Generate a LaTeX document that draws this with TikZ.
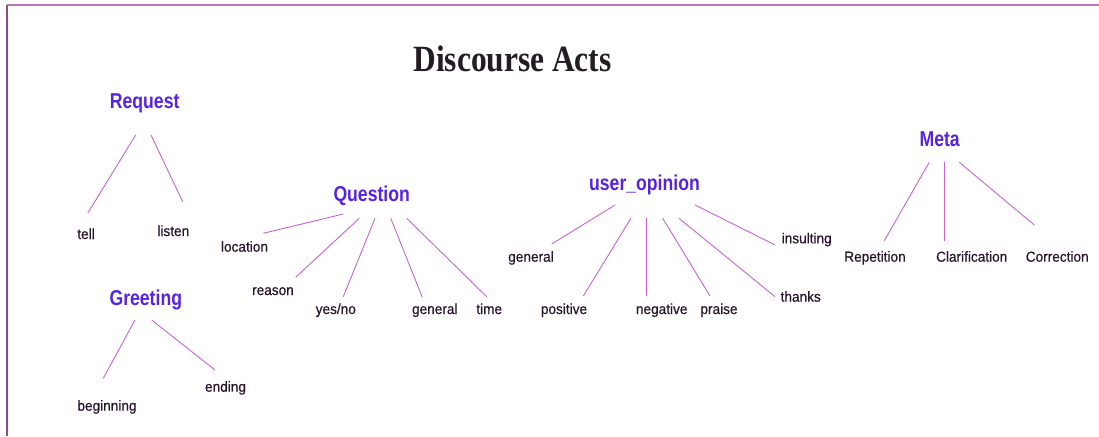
\documentclass[tikz,border=0pt]{standalone}
\usepackage{fontspec}
\setmainfont{Liberation Sans}
\newfontfamily\titlefont{Liberation Serif}
\newfontfamily\leaffont[FakeBold=0.5]{Liberation Sans}

\definecolor{actblue}{RGB}{85,35,225}
\definecolor{leafink}{RGB}{40,20,45}
\definecolor{titleink}{RGB}{35,28,35}
\definecolor{twigcol}{RGB}{195,100,210}
\definecolor{frametop}{RGB}{185,115,190}
\definecolor{frameside}{RGB}{140,75,140}

\tikzset{
	act/.style = {
		anchor = base,
		inner sep = 0pt,
		text = actblue,
		xscale = 0.82,
		font = \fontsize{21.5}{24}\selectfont\bfseries,
	},
	leaf/.style = {
		anchor = base,
		inner sep = 0pt,
		text = leafink,
		xscale = 0.94,
		font = \leaffont\fontsize{14.5}{17}\selectfont,
	},
	link/.style = {
		draw = twigcol,
		line width = 0.9pt,
	},
}

\begin{document}
\begin{tikzpicture}[x = 1pt, y = -1pt]
	
	\useasboundingbox (0,0) rectangle (1099,436);
	
	% frame
	\draw[frametop, line width = 2.2pt] (7,5) -- (1099,5);
	\draw[frameside, line width = 1.5pt] (7,5) -- (7,436);
	
	\node[
		anchor = base,
		inner sep = 0pt,
		text = titleink,
		xscale = 0.85,
		font = \titlefont\fontsize{37}{40}\selectfont\bfseries,
		name = title,
	] at (512.5,71) {Discourse Acts};
	
	% Request
	\node[act, name = request] at (144.7,108.3) {Request};
	\node[leaf, name = tell] at (86,239) {tell};
	\node[leaf, name = listen] at (173.3,236) {listen};
	
	\draw[link] ([shift={(-9,26.7)}]request.base) -- ([shift={(1.7,-25.7)}]tell.base);
	\draw[link] ([shift={(6.3,26.7)}]request.base) -- ([shift={(9.4,-34.3)}]listen.base);
	
	% Greeting
	\node[act, name = greeting] at (145.8,305) {Greeting};
	\node[leaf, name = beginning] at (107,410.7) {beginning};
	\node[leaf, name = ending] at (225.5,391.7) {ending};
	
	\draw[link] ([shift={(-10.8,15)}]greeting.base) -- ([shift={(-3.7,-32.4)}]beginning.base);
	\draw[link] ([shift={(5.9,15)}]greeting.base) -- ([shift={(-10.5,-21.7)}]ending.base);
	
	% Question
	\node[act, name = question] at (371.7,201.7) {Question};
	\node[leaf, name = location] at (244.5,251.7) {location};
	\node[leaf, name = reason] at (273,295) {reason};
	\node[leaf, name = yesno] at (335.8,314) {yes/no};
	\node[leaf, name = qgeneral] at (434.8,314) {general};
	\node[leaf, name = time] at (489.2,314) {time};
	
	\draw[link] ([shift={(-28.4,12.3)}]question.base) -- ([shift={(18.8,-18.4)}]location.base);
	\draw[link] ([shift={(-12.4,16.6)}]question.base) -- ([shift={(22.7,-17.7)}]reason.base);
	\draw[link] ([shift={(3.3,16.6)}]question.base) -- ([shift={(7.5,-17.3)}]yesno.base);
	\draw[link] ([shift={(19,16.6)}]question.base) -- ([shift={(-12.5,-16.7)}]qgeneral.base);
	\draw[link] ([shift={(35,16.6)}]question.base) -- ([shift={(-2.5,-17.3)}]time.base);
	
	% user_opinion
	\node[act, name = opinion] at (644.5,190) {user\_opinion};
	\node[leaf, name = ogeneral] at (531,261.7) {general};
	\node[leaf, name = positive] at (564,314) {positive};
	\node[leaf, name = negative] at (661.7,314) {negative};
	\node[leaf, name = praise] at (719,314) {praise};
	\node[leaf, name = thanks] at (800.7,301.7) {thanks};
	\node[leaf, name = insulting] at (806.7,243.3) {insulting};
	
	\draw[link] ([shift={(-29.5,15)}]opinion.base) -- ([shift={(20.7,-17.7)}]ogeneral.base);
	\draw[link] ([shift={(-13.5,28.3)}]opinion.base) -- ([shift={(19.3,-18)}]positive.base);
	\draw[link] ([shift={(2.2,28.3)}]opinion.base) -- ([shift={(-15,-18)}]negative.base);
	\draw[link] ([shift={(18.2,28.3)}]opinion.base) -- ([shift={(-9,-18)}]praise.base);
	\draw[link] ([shift={(34.5,28.3)}]opinion.base) -- ([shift={(-25.7,-5)}]thanks.base);
	\draw[link] ([shift={(50.5,15)}]opinion.base) -- ([shift={(-31.7,1.7)}]insulting.base);
	
	% Meta
	\node[act, name = meta] at (939.7,146.7) {Meta};
	\node[leaf, name = repetition] at (875,261.7) {Repetition};
	\node[leaf, name = clarification] at (971.7,261.7) {Clarification};
	\node[leaf, name = correction] at (1057.2,261.7) {Correction};
	
	\draw[link] ([shift={(-10.4,15.6)}]meta.base) -- ([shift={(9.3,-21)}]repetition.base);
	\draw[link] ([shift={(4.6,15.6)}]meta.base) -- ([shift={(-27.4,-21)}]clarification.base);
	\draw[link] ([shift={(19.6,15.6)}]meta.base) -- ([shift={(-22.9,-36.7)}]correction.base);
	
\end{tikzpicture}
\end{document}
